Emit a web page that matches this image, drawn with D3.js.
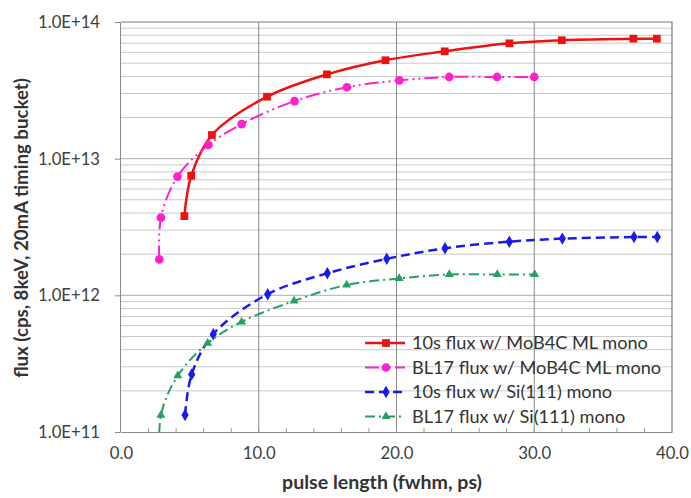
<!DOCTYPE html>
<html><head><meta charset="utf-8">
<script src="https://cdn.jsdelivr.net/npm/d3@7"></script>
<style>body{margin:0;background:#fff;} text{font-family:Lato, "Open Sans", sans-serif;}</style>
</head><body><svg id="c" width="691" height="498"></svg>
<script>
// Data
const redX = [4.6, 5.1, 6.6, 10.6, 14.95, 19.2, 23.5, 28.2, 32.0, 37.2, 38.9];
const redY = [3.8e12, 7.5e12, 1.49e13, 2.84e13, 4.14e13, 5.25e13, 6.1e13, 6.98e13, 7.35e13, 7.55e13, 7.55e13];
const magX = [2.78, 2.9, 4.1, 6.35, 8.76, 12.6, 16.4, 20.2, 23.83, 27.3, 30.0];
const magY = [1.83e12, 3.7e12, 7.4e12, 1.26e13, 1.79e13, 2.64e13, 3.33e13, 3.74e13, 3.96e13, 3.96e13, 3.96e13];
const bluX = [4.65, 5.13, 6.7, 10.65, 14.98, 19.29, 23.52, 28.19, 32.04, 37.24, 38.93];
const bluY = [1.33e11, 2.64e11, 5.2e11, 1.02e12, 1.45e12, 1.85e12, 2.21e12, 2.47e12, 2.6e12, 2.67e12, 2.67e12];
const grnX = [2.85, 2.9, 4.12, 6.29, 8.76, 12.56, 16.38, 20.2, 23.83, 27.32, 30.03];
const grnY = [5.0e10, 1.33e11, 2.58e11, 4.46e11, 6.4e11, 9.1e11, 1.19e12, 1.33e12, 1.42e12, 1.42e12, 1.42e12];
const seriesNames = ["10s flux w/ MoB4C ML mono", "BL17 flux w/ MoB4C ML mono", "10s flux w/ Si(111) mono", "BL17 flux w/ Si(111) mono"];
const xTicks = [0, 10, 20, 30, 40];
const yTicks = [1e11, 1e12, 1e13, 1e14];
const xTitle = "pulse length (fwhm, ps)";
const yTitle = "flux (cps, 8keV, 20mA timing bucket)";

const L = 121, R = 672, T = 22, B = 432;
const svg = d3.select("#c");
const x = d3.scaleLinear().domain([0, 40]).range([L, R]);
const y = d3.scaleLog().domain([1e11, 1e14]).range([B, T]);

// size text so that a reference string reaches a target width
function fitSize(sample, target, base, weight) {
  const t = svg.append("text").attr("font-size", base).attr("font-weight", weight || "normal").text(sample);
  const w = t.node().getComputedTextLength();
  t.remove();
  return base * target / w;
}
const tickFs = fitSize("1.0E+14", 62, 15);
const legFs = fitSize(seriesNames[0], 236, 15);
const xtFs = fitSize(xTitle, 200, 15, "bold");
const ytFs = fitSize(yTitle, 300, 15, "bold");

// minor horizontal gridlines
const minor = [];
for (let e = 11; e < 14; e++) for (let m = 2; m <= 9; m++) minor.push(m * Math.pow(10, e));
svg.append("g").selectAll("line").data(minor).join("line")
  .attr("x1", L).attr("x2", R).attr("y1", d => y(d)).attr("y2", d => y(d))
  .attr("stroke", "#c9c9c9").attr("stroke-width", 1);
svg.append("g").selectAll("line").data(yTicks.slice(1, 3)).join("line")
  .attr("x1", L).attr("x2", R).attr("y1", d => y(d)).attr("y2", d => y(d))
  .attr("stroke", "#b0b0b0").attr("stroke-width", 1);
// vertical gridlines
svg.append("g").selectAll("line").data([10, 20, 30]).join("line")
  .attr("x1", d => x(d)).attr("x2", d => x(d)).attr("y1", T).attr("y2", B)
  .attr("stroke", "#8a8a8a").attr("stroke-width", 1);
// border top/right
svg.append("path").attr("d", `M${L},${T}H${R}V${B}`).attr("fill", "none").attr("stroke", "#7a7a7a").attr("stroke-width", 1.2);

// axes
const xAxis = d3.axisBottom(x).tickValues(xTicks).tickFormat(d3.format(".1f")).tickSize(0).tickPadding(15);
const gx = svg.append("g").attr("transform", `translate(0,${B})`).call(xAxis);
gx.select(".domain").attr("stroke", "#8a8a8a");
gx.selectAll("text").attr("font-size", tickFs).attr("fill", "#404040").attr("font-family", "Lato");
// minor x ticks
svg.append("g").selectAll("line").data(d3.range(2, 40, 2)).join("line")
  .attr("x1", d => x(d)).attr("x2", d => x(d)).attr("y1", B - 4).attr("y2", B)
  .attr("stroke", "#9a9a9a");
const yAxis = d3.axisLeft(y).tickValues(yTicks).tickFormat(d => d.toExponential(1).replace("e+", "E+")).tickSize(5).tickPadding(15);
const gy = svg.append("g").attr("transform", `translate(${L - 1},0)`).call(yAxis);
gy.select(".domain").attr("stroke", "#8a8a8a");
gy.selectAll(".tick line").attr("stroke", "#8a8a8a");
gy.selectAll("text").attr("font-size", tickFs).attr("fill", "#404040").attr("font-family", "Lato");

// titles
svg.append("text").attr("x", 382).attr("y", 489).attr("text-anchor", "middle")
  .attr("font-size", xtFs).attr("font-weight", "bold").attr("fill", "#333").text(xTitle);
svg.append("text").attr("transform", "translate(28,228) rotate(-90)").attr("text-anchor", "middle")
  .attr("font-size", ytFs).attr("font-weight", "bold").attr("fill", "#333").text(yTitle);

// clip
svg.append("clipPath").attr("id", "clip").append("rect").attr("x", L - 10).attr("y", T - 10).attr("width", R - L + 20).attr("height", B - T + 10);

const series = [
  {xs: redX, ys: redY, color: "#ee1111", dash: null, w: 2.5, marker: "square"},
  {xs: magX, ys: magY, color: "#ff22cc", dash: "14,4,2,4,2,4", w: 2, marker: "circle"},
  {xs: bluX, ys: bluY, color: "#1a1aee", dash: "9,5", w: 2.5, marker: "diamond"},
  {xs: grnX, ys: grnY, color: "#26a060", dash: "10,4,2,4", w: 2, marker: "triangle"}
];
const sym = {square: d3.symbolSquare, circle: d3.symbolCircle, diamond: d3.symbolDiamond, triangle: d3.symbolTriangle};
const size = {square: 60, circle: 60, diamond: 45, triangle: 35};
const line = d3.line().x(d => x(d[0])).y(d => y(d[1])).curve(d3.curveCatmullRom.alpha(0.5));
const plot = svg.append("g").attr("clip-path", "url(#clip)");
series.forEach(s => {
  const pts = s.xs.map((v, i) => [v, s.ys[i]]);
  plot.append("path").datum(pts).attr("d", line).attr("fill", "none")
    .attr("stroke", s.color).attr("stroke-width", s.w).attr("stroke-dasharray", s.dash);
  plot.append("g").selectAll("path").data(pts.filter(p => p[1] >= 1e11)).join("path")
    .attr("transform", p => `translate(${x(p[0])},${y(p[1])})`)
    .attr("d", d3.symbol(sym[s.marker], size[s.marker])).attr("fill", s.color);
});

// legend
const lg = svg.append("g");
series.forEach((s, i) => {
  const yy = 343 + i * 24.5;
  lg.append("line").attr("x1", 365).attr("x2", 405).attr("y1", yy).attr("y2", yy)
    .attr("stroke", s.color).attr("stroke-width", s.w).attr("stroke-dasharray", s.dash);
  lg.append("path").attr("transform", `translate(386,${yy})`).attr("d", d3.symbol(sym[s.marker], size[s.marker])).attr("fill", s.color);
  lg.append("text").attr("x", 412).attr("y", yy + 6).attr("font-size", legFs).attr("fill", "#333").text(seriesNames[i]);
});
</script></body></html>
